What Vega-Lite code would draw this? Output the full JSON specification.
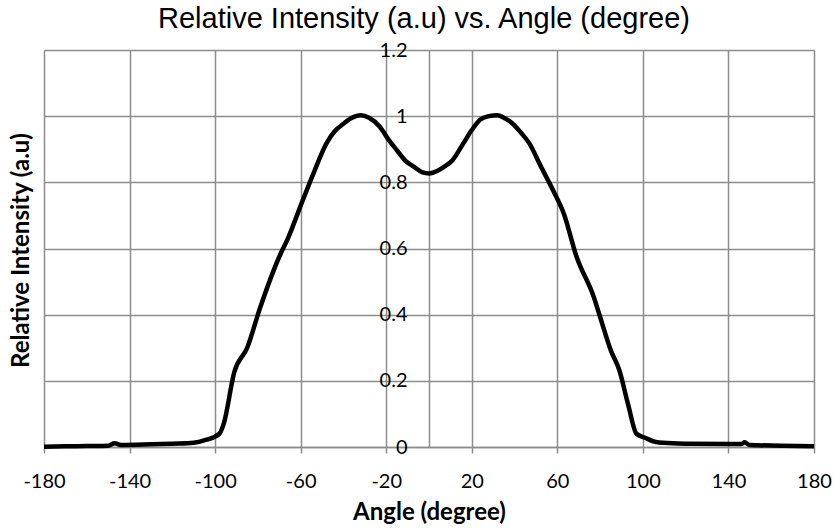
{
  "$schema": "https://vega.github.io/schema/vega-lite/v6.json",
  "width": 770,
  "height": 397,
  "autosize": "none",
  "padding": {"left": 44, "top": 50, "right": 21, "bottom": 82},
  "background": "white",
  "title": {
    "text": "Relative Intensity (a.u) vs. Angle (degree)",
    "font": "Liberation Sans",
    "fontSize": 29,
    "fontWeight": "normal",
    "color": "black",
    "anchor": "middle",
    "dx": -5,
    "offset": 6
  },
  "config": {
    "view": {"stroke": null},
    "axis": {
      "labelFont": "Lato",
      "labelFontSize": 20,
      "labelColor": "black",
      "titleFont": "Lato",
      "titleFontSize": 24,
      "titleFontWeight": "bold",
      "titleColor": "black",
      "gridColor": "#8c8c8c",
      "gridWidth": 1.5,
      "gridOpacity": 1,
      "domainColor": "#8c8c8c",
      "domainWidth": 1.5,
      "tickColor": "#8c8c8c",
      "tickWidth": 1.5
    }
  },
  "data": {
    "values": [
      {"angle": -180, "intensity": 0.001},
      {"angle": -170, "intensity": 0.002},
      {"angle": -160, "intensity": 0.003},
      {"angle": -150, "intensity": 0.004},
      {"angle": -147, "intensity": 0.011},
      {"angle": -144, "intensity": 0.006},
      {"angle": -130, "intensity": 0.008},
      {"angle": -120, "intensity": 0.010},
      {"angle": -110, "intensity": 0.013},
      {"angle": -104, "intensity": 0.022},
      {"angle": -98, "intensity": 0.04},
      {"angle": -96, "intensity": 0.07},
      {"angle": -91, "intensity": 0.227},
      {"angle": -85, "intensity": 0.30},
      {"angle": -79, "intensity": 0.42},
      {"angle": -70, "intensity": 0.575},
      {"angle": -66, "intensity": 0.63},
      {"angle": -59, "intensity": 0.746},
      {"angle": -54, "intensity": 0.827},
      {"angle": -48, "intensity": 0.917},
      {"angle": -44, "intensity": 0.955},
      {"angle": -40, "intensity": 0.977},
      {"angle": -36, "intensity": 0.995},
      {"angle": -32, "intensity": 1.003},
      {"angle": -28, "intensity": 0.995},
      {"angle": -23, "intensity": 0.968},
      {"angle": -19, "intensity": 0.93},
      {"angle": -15, "intensity": 0.897},
      {"angle": -11, "intensity": 0.865},
      {"angle": -7, "intensity": 0.847},
      {"angle": -3, "intensity": 0.83},
      {"angle": 0, "intensity": 0.827},
      {"angle": 4, "intensity": 0.835},
      {"angle": 7, "intensity": 0.847},
      {"angle": 11, "intensity": 0.867},
      {"angle": 16, "intensity": 0.917},
      {"angle": 20, "intensity": 0.958},
      {"angle": 24, "intensity": 0.99},
      {"angle": 28, "intensity": 1.0},
      {"angle": 32, "intensity": 1.003},
      {"angle": 35, "intensity": 0.995},
      {"angle": 39, "intensity": 0.978},
      {"angle": 43, "intensity": 0.95},
      {"angle": 47, "intensity": 0.917},
      {"angle": 52, "intensity": 0.852},
      {"angle": 58, "intensity": 0.776},
      {"angle": 63, "intensity": 0.706},
      {"angle": 69, "intensity": 0.575},
      {"angle": 77, "intensity": 0.454},
      {"angle": 80, "intensity": 0.393},
      {"angle": 85, "intensity": 0.292},
      {"angle": 89, "intensity": 0.232},
      {"angle": 93, "intensity": 0.131},
      {"angle": 97, "intensity": 0.04},
      {"angle": 101, "intensity": 0.028},
      {"angle": 106, "intensity": 0.015},
      {"angle": 114, "intensity": 0.011},
      {"angle": 122, "intensity": 0.010},
      {"angle": 140, "intensity": 0.009},
      {"angle": 146, "intensity": 0.009},
      {"angle": 147.5, "intensity": 0.014},
      {"angle": 150, "intensity": 0.006},
      {"angle": 165, "intensity": 0.004},
      {"angle": 180, "intensity": 0.002}
    ]
  },
  "mark": {"type": "line", "color": "black", "strokeWidth": 4.5, "interpolate": "monotone", "clip": false},
  "encoding": {
    "x": {
      "field": "angle",
      "type": "quantitative",
      "scale": {"domain": [-180, 180], "nice": false, "zero": false},
      "axis": {
        "title": "Angle (degree)",
        "values": [-180, -140, -100, -60, -20, 20, 60, 100, 140, 180],
        "labelExpr": "datum.value < 0 ? '-' + abs(datum.value) : '' + datum.value",
        "tickSize": 6,
        "labelPadding": 18,
        "titlePadding": 9,
        "labelFlush": false
      }
    },
    "y": {
      "field": "intensity",
      "type": "quantitative",
      "scale": {"domain": [0, 1.2], "nice": false},
      "axis": {
        "title": "Relative Intensity (a.u)",
        "values": [0, 0.2, 0.4, 0.6, 0.8, 1, 1.2],
        "format": "~g",
        "offset": -385,
        "ticks": false,
        "labelPadding": 22,
        "labelFlush": false,
        "titleX": -408,
        "titleY": 200,
        "titleAngle": -90,
        "titleAlign": "center",
        "titleBaseline": "middle"
      }
    }
  }
}
